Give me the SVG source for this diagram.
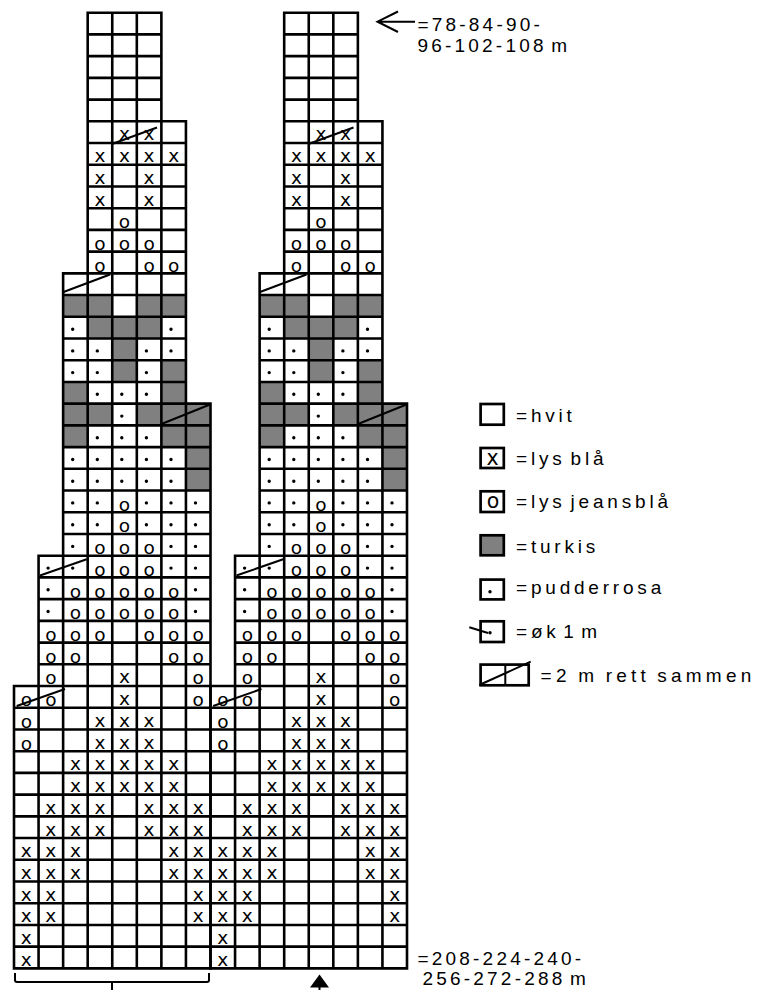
<svg xmlns="http://www.w3.org/2000/svg" width="766" height="990" viewBox="0 0 766 990">
<style>
.g{fill:none;stroke:#000;stroke-width:2.6;stroke-linecap:square;vector-effect:non-scaling-stroke}
.t{fill:#808080}
.d{fill:none;stroke:#000;stroke-width:2}
.dots{fill:none;stroke:#000;stroke-width:3.4;stroke-linecap:round}
.s{font-family:'DejaVu Sans','Liberation Sans',sans-serif;font-size:18.5px;text-anchor:middle;fill:#000}
.ls{font-family:'DejaVu Sans','Liberation Sans',sans-serif;font-size:20.5px;text-anchor:middle;fill:#000}
.lbl{font-family:'Liberation Sans',Arial,sans-serif;font-size:19px;fill:#000}
.lg{letter-spacing:3.8px;word-spacing:-4px}
.nm{letter-spacing:3.2px;word-spacing:-4px}
.box{fill:#fff;stroke:#000;stroke-width:2.7}
.tb{fill:#808080}
.ln{fill:none;stroke:#000;stroke-width:2}
</style>
<rect x="0" y="0" width="766" height="990" fill="#fff"/>
<g id="chart-left">
 <g transform="translate(14 12.7) scale(24.5625 21.72)">
  <path class="t" d="M2 13h2v1h-2zM5 13h2v1h-2zM3 14h3v1h-3zM4 15h1v2h-1zM6 16h1v2h-1zM2 17h1v3h-1zM3 18h1v1h-1zM5 18h3v1h-3zM6 19h2v1h-2zM7 20h1v2h-1z"/>
  <path class="g" d="M3 0H6M3 1H6M3 2H6M3 3H6M3 4H6M3 5H7M3 6H7M3 7H7M3 8H7M3 9H7M3 10H7M3 11H7M2 12H7M2 13H7M2 14H7M2 15H7M2 16H7M2 17H7M2 18H8M2 19H8M2 20H8M2 21H8M2 22H8M2 23H8M2 24H8M1 25H8M1 26H8M1 27H8M1 28H8M1 29H8M1 30H8M0 31H8M0 32H8M0 33H8M0 34H8M0 35H8M0 36H8M0 37H8M0 38H8M0 39H8M0 40H8M0 41H8M0 42H8M0 43H8M0 44H8M0 31V44M1 25V44M2 12V44M3 0V44M4 0V44M5 0V44M6 0V44M7 5V44M8 18V44"/>
 </g>
 <path class="dots" d="M72.7 329.2h0M171 329.2h0M72.7 350.9h0M97.3 350.9h0M146.4 350.9h0M171 350.9h0M72.7 372.6h0M97.3 372.6h0M146.4 372.6h0M97.3 394.3h0M121.8 394.3h0M146.4 394.3h0M121.8 416.1h0M97.3 437.8h0M121.8 437.8h0M146.4 437.8h0M72.7 459.5h0M97.3 459.5h0M121.8 459.5h0M146.4 459.5h0M171 459.5h0M72.7 481.2h0M97.3 481.2h0M121.8 481.2h0M146.4 481.2h0M171 481.2h0M72.7 502.9h0M97.3 502.9h0M146.4 502.9h0M171 502.9h0M195.5 502.9h0M72.7 524.7h0M97.3 524.7h0M146.4 524.7h0M171 524.7h0M195.5 524.7h0M72.7 546.4h0M171 546.4h0M195.5 546.4h0M48.1 568.1h0M72.7 568.1h0M171 568.1h0M195.5 568.1h0M48.1 589.8h0M195.5 589.8h0M48.1 611.5h0M195.5 611.5h0"/>
 <g class="s">
  <text x="124.5" y="140.4">x</text><text x="149.1" y="140.4">x</text>
  <text x="100" y="162.1">x</text><text x="124.5" y="162.1">x</text><text x="149.1" y="162.1">x</text><text x="173.7" y="162.1">x</text>
  <text x="100" y="183.9">x</text><text x="149.1" y="183.9">x</text>
  <text x="100" y="205.6">x</text><text x="149.1" y="205.6">x</text>
  <text x="124.5" y="228.3">o</text>
  <text x="100" y="250">o</text><text x="124.5" y="250">o</text><text x="149.1" y="250">o</text>
  <text x="100" y="271.7">o</text><text x="149.1" y="271.7">o</text><text x="173.7" y="271.7">o</text>
  <text x="124.5" y="510.7">o</text>
  <text x="124.5" y="532.4">o</text>
  <text x="100" y="554.1">o</text><text x="124.5" y="554.1">o</text><text x="149.1" y="554.1">o</text>
  <text x="100" y="575.8">o</text><text x="124.5" y="575.8">o</text><text x="149.1" y="575.8">o</text>
  <text x="75.4" y="597.5">o</text><text x="100" y="597.5">o</text><text x="124.5" y="597.5">o</text><text x="149.1" y="597.5">o</text><text x="173.7" y="597.5">o</text>
  <text x="75.4" y="619.3">o</text><text x="100" y="619.3">o</text><text x="124.5" y="619.3">o</text><text x="149.1" y="619.3">o</text><text x="173.7" y="619.3">o</text>
  <text x="50.8" y="641">o</text><text x="75.4" y="641">o</text><text x="100" y="641">o</text><text x="149.1" y="641">o</text><text x="173.7" y="641">o</text><text x="198.2" y="641">o</text>
  <text x="50.8" y="662.7">o</text><text x="75.4" y="662.7">o</text><text x="173.7" y="662.7">o</text><text x="198.2" y="662.7">o</text>
  <text x="50.8" y="684.4">o</text><text x="124.5" y="683.4">x</text><text x="198.2" y="684.4">o</text>
  <text x="26.3" y="706.1">o</text><text x="50.8" y="706.1">o</text><text x="124.5" y="705.1">x</text><text x="198.2" y="706.1">o</text>
  <text x="26.3" y="727.9">o</text><text x="100" y="726.9">x</text><text x="124.5" y="726.9">x</text><text x="149.1" y="726.9">x</text>
  <text x="26.3" y="749.6">o</text><text x="100" y="748.6">x</text><text x="124.5" y="748.6">x</text><text x="149.1" y="748.6">x</text>
  <text x="75.4" y="770.3">x</text><text x="100" y="770.3">x</text><text x="124.5" y="770.3">x</text><text x="149.1" y="770.3">x</text><text x="173.7" y="770.3">x</text>
  <text x="75.4" y="792">x</text><text x="100" y="792">x</text><text x="124.5" y="792">x</text><text x="149.1" y="792">x</text><text x="173.7" y="792">x</text>
  <text x="50.8" y="813.7">x</text><text x="75.4" y="813.7">x</text><text x="100" y="813.7">x</text><text x="149.1" y="813.7">x</text><text x="173.7" y="813.7">x</text><text x="198.2" y="813.7">x</text>
  <text x="50.8" y="835.5">x</text><text x="75.4" y="835.5">x</text><text x="100" y="835.5">x</text><text x="149.1" y="835.5">x</text><text x="173.7" y="835.5">x</text><text x="198.2" y="835.5">x</text>
  <text x="26.3" y="857.2">x</text><text x="50.8" y="857.2">x</text><text x="75.4" y="857.2">x</text><text x="173.7" y="857.2">x</text><text x="198.2" y="857.2">x</text>
  <text x="26.3" y="878.9">x</text><text x="50.8" y="878.9">x</text><text x="75.4" y="878.9">x</text><text x="173.7" y="878.9">x</text><text x="198.2" y="878.9">x</text>
  <text x="26.3" y="900.6">x</text><text x="50.8" y="900.6">x</text><text x="198.2" y="900.6">x</text>
  <text x="26.3" y="922.3">x</text><text x="50.8" y="922.3">x</text><text x="198.2" y="922.3">x</text>
  <text x="26.3" y="944.1">x</text>
  <text x="26.3" y="965.8">x</text>
 </g>
 <path class="d" d="M112 144L157 127.5M63.5 292L110 274.5M161.5 424L210 404.5M40 575.5L86.7 559.3M16.7 706L65 689"/>
</g>
<g id="chart-right" transform="translate(196.5 0)">
 <g transform="translate(14 12.7) scale(24.5625 21.72)">
  <path class="t" d="M2 13h2v1h-2zM5 13h2v1h-2zM3 14h3v1h-3zM4 15h1v2h-1zM6 16h1v2h-1zM2 17h1v3h-1zM3 18h1v1h-1zM5 18h3v1h-3zM6 19h2v1h-2zM7 20h1v2h-1z"/>
  <path class="g" d="M3 0H6M3 1H6M3 2H6M3 3H6M3 4H6M3 5H7M3 6H7M3 7H7M3 8H7M3 9H7M3 10H7M3 11H7M2 12H7M2 13H7M2 14H7M2 15H7M2 16H7M2 17H7M2 18H8M2 19H8M2 20H8M2 21H8M2 22H8M2 23H8M2 24H8M1 25H8M1 26H8M1 27H8M1 28H8M1 29H8M1 30H8M0 31H8M0 32H8M0 33H8M0 34H8M0 35H8M0 36H8M0 37H8M0 38H8M0 39H8M0 40H8M0 41H8M0 42H8M0 43H8M0 44H8M0 31V44M1 25V44M2 12V44M3 0V44M4 0V44M5 0V44M6 0V44M7 5V44M8 18V44"/>
 </g>
 <path class="dots" d="M72.7 329.2h0M171 329.2h0M72.7 350.9h0M97.3 350.9h0M146.4 350.9h0M171 350.9h0M72.7 372.6h0M97.3 372.6h0M146.4 372.6h0M97.3 394.3h0M121.8 394.3h0M146.4 394.3h0M121.8 416.1h0M97.3 437.8h0M121.8 437.8h0M146.4 437.8h0M72.7 459.5h0M97.3 459.5h0M121.8 459.5h0M146.4 459.5h0M171 459.5h0M72.7 481.2h0M97.3 481.2h0M121.8 481.2h0M146.4 481.2h0M171 481.2h0M72.7 502.9h0M97.3 502.9h0M146.4 502.9h0M171 502.9h0M195.5 502.9h0M72.7 524.7h0M97.3 524.7h0M146.4 524.7h0M171 524.7h0M195.5 524.7h0M72.7 546.4h0M171 546.4h0M195.5 546.4h0M48.1 568.1h0M72.7 568.1h0M171 568.1h0M195.5 568.1h0M48.1 589.8h0M195.5 589.8h0M48.1 611.5h0M195.5 611.5h0"/>
 <g class="s">
  <text x="124.5" y="140.4">x</text><text x="149.1" y="140.4">x</text>
  <text x="100" y="162.1">x</text><text x="124.5" y="162.1">x</text><text x="149.1" y="162.1">x</text><text x="173.7" y="162.1">x</text>
  <text x="100" y="183.9">x</text><text x="149.1" y="183.9">x</text>
  <text x="100" y="205.6">x</text><text x="149.1" y="205.6">x</text>
  <text x="124.5" y="228.3">o</text>
  <text x="100" y="250">o</text><text x="124.5" y="250">o</text><text x="149.1" y="250">o</text>
  <text x="100" y="271.7">o</text><text x="149.1" y="271.7">o</text><text x="173.7" y="271.7">o</text>
  <text x="124.5" y="510.7">o</text>
  <text x="124.5" y="532.4">o</text>
  <text x="100" y="554.1">o</text><text x="124.5" y="554.1">o</text><text x="149.1" y="554.1">o</text>
  <text x="100" y="575.8">o</text><text x="124.5" y="575.8">o</text><text x="149.1" y="575.8">o</text>
  <text x="75.4" y="597.5">o</text><text x="100" y="597.5">o</text><text x="124.5" y="597.5">o</text><text x="149.1" y="597.5">o</text><text x="173.7" y="597.5">o</text>
  <text x="75.4" y="619.3">o</text><text x="100" y="619.3">o</text><text x="124.5" y="619.3">o</text><text x="149.1" y="619.3">o</text><text x="173.7" y="619.3">o</text>
  <text x="50.8" y="641">o</text><text x="75.4" y="641">o</text><text x="100" y="641">o</text><text x="149.1" y="641">o</text><text x="173.7" y="641">o</text><text x="198.2" y="641">o</text>
  <text x="50.8" y="662.7">o</text><text x="75.4" y="662.7">o</text><text x="173.7" y="662.7">o</text><text x="198.2" y="662.7">o</text>
  <text x="50.8" y="684.4">o</text><text x="124.5" y="683.4">x</text><text x="198.2" y="684.4">o</text>
  <text x="26.3" y="706.1">o</text><text x="50.8" y="706.1">o</text><text x="124.5" y="705.1">x</text><text x="198.2" y="706.1">o</text>
  <text x="26.3" y="727.9">o</text><text x="100" y="726.9">x</text><text x="124.5" y="726.9">x</text><text x="149.1" y="726.9">x</text>
  <text x="26.3" y="749.6">o</text><text x="100" y="748.6">x</text><text x="124.5" y="748.6">x</text><text x="149.1" y="748.6">x</text>
  <text x="75.4" y="770.3">x</text><text x="100" y="770.3">x</text><text x="124.5" y="770.3">x</text><text x="149.1" y="770.3">x</text><text x="173.7" y="770.3">x</text>
  <text x="75.4" y="792">x</text><text x="100" y="792">x</text><text x="124.5" y="792">x</text><text x="149.1" y="792">x</text><text x="173.7" y="792">x</text>
  <text x="50.8" y="813.7">x</text><text x="75.4" y="813.7">x</text><text x="100" y="813.7">x</text><text x="149.1" y="813.7">x</text><text x="173.7" y="813.7">x</text><text x="198.2" y="813.7">x</text>
  <text x="50.8" y="835.5">x</text><text x="75.4" y="835.5">x</text><text x="100" y="835.5">x</text><text x="149.1" y="835.5">x</text><text x="173.7" y="835.5">x</text><text x="198.2" y="835.5">x</text>
  <text x="26.3" y="857.2">x</text><text x="50.8" y="857.2">x</text><text x="75.4" y="857.2">x</text><text x="173.7" y="857.2">x</text><text x="198.2" y="857.2">x</text>
  <text x="26.3" y="878.9">x</text><text x="50.8" y="878.9">x</text><text x="75.4" y="878.9">x</text><text x="173.7" y="878.9">x</text><text x="198.2" y="878.9">x</text>
  <text x="26.3" y="900.6">x</text><text x="50.8" y="900.6">x</text><text x="198.2" y="900.6">x</text>
  <text x="26.3" y="922.3">x</text><text x="50.8" y="922.3">x</text><text x="198.2" y="922.3">x</text>
  <text x="26.3" y="944.1">x</text>
  <text x="26.3" y="965.8">x</text>
 </g>
 <path class="d" d="M112 144L157 127.5M63.5 292L110 274.5M161.5 424L210 404.5M40 575.5L86.7 559.3M16.7 706L65 689"/>
</g>
<g id="legend">
 <g id="leg-hvit"><rect class="box" x="480.6" y="404" width="23.2" height="20.7"/><text class="lbl lg" x="516" y="421.7">=hvit</text></g>
 <g id="leg-lys-bla"><rect class="box" x="480.6" y="448" width="23.2" height="20"/><text class="ls" x="492.5" y="465.3">x</text><text class="lbl lg" x="516" y="465">=lys blå</text></g>
 <g id="leg-lys-jeansbla"><rect class="box" x="480.6" y="491.3" width="23.2" height="20.7"/><text class="ls" x="493" y="508.3">o</text><text class="lbl lg" x="516" y="508.3">=lys jeansblå</text></g>
 <g id="leg-turkis"><rect class="box tb" x="480.6" y="535.3" width="23.2" height="20"/><text class="lbl lg" x="516" y="553">=turkis</text></g>
 <g id="leg-pudderrosa"><rect class="box" x="480.6" y="579.6" width="23.2" height="19.8"/><path class="dots" d="M490 591.7h0"/><text class="lbl lg" x="516" y="594">=pudderrosa</text></g>
 <g id="leg-ok"><rect class="box" x="480.6" y="621.3" width="23.2" height="20.7"/><path class="dots" d="M490 632.7h0"/><path class="ln" d="M469.3 627.3L488 633"/><text class="lbl lg" x="516" y="638.3" style="word-spacing:-5.5px">=øk 1 m</text></g>
 <g id="leg-2m"><rect class="box" x="480.6" y="664.6" width="48.1" height="20.7"/><path class="ln" d="M505.3 664.6V685.3M479.3 685L530.7 661.7"/><text class="lbl" x="540.6" y="681.7" style="letter-spacing:4.2px;word-spacing:-2px">=2 m rett sammen</text></g>
</g>
<g id="labels">
 <text class="lbl nm" x="417.5" y="30.7">=78-84-90-</text>
 <text class="lbl nm" x="417.5" y="51.5">96-102-108 m</text>
 <text class="lbl nm" x="417.5" y="965">=208-224-240-</text>
 <text class="lbl nm" x="422.5" y="985">256-272-288 m</text>
</g>
<g id="connectors">
 <path class="ln" d="M415 21.7H378M398 11.5L377.5 21.7L398 32"/>
 <path class="ln" d="M15 973V980Q15 982 17 982H207Q209 982 209 980V973M112 982V990"/>
 <path d="M319.5 974.5L310 987.5H329Z" fill="#000"/>
 <path class="ln" d="M319.5 987V990" stroke-width="2.5"/>
</g>
</svg>
